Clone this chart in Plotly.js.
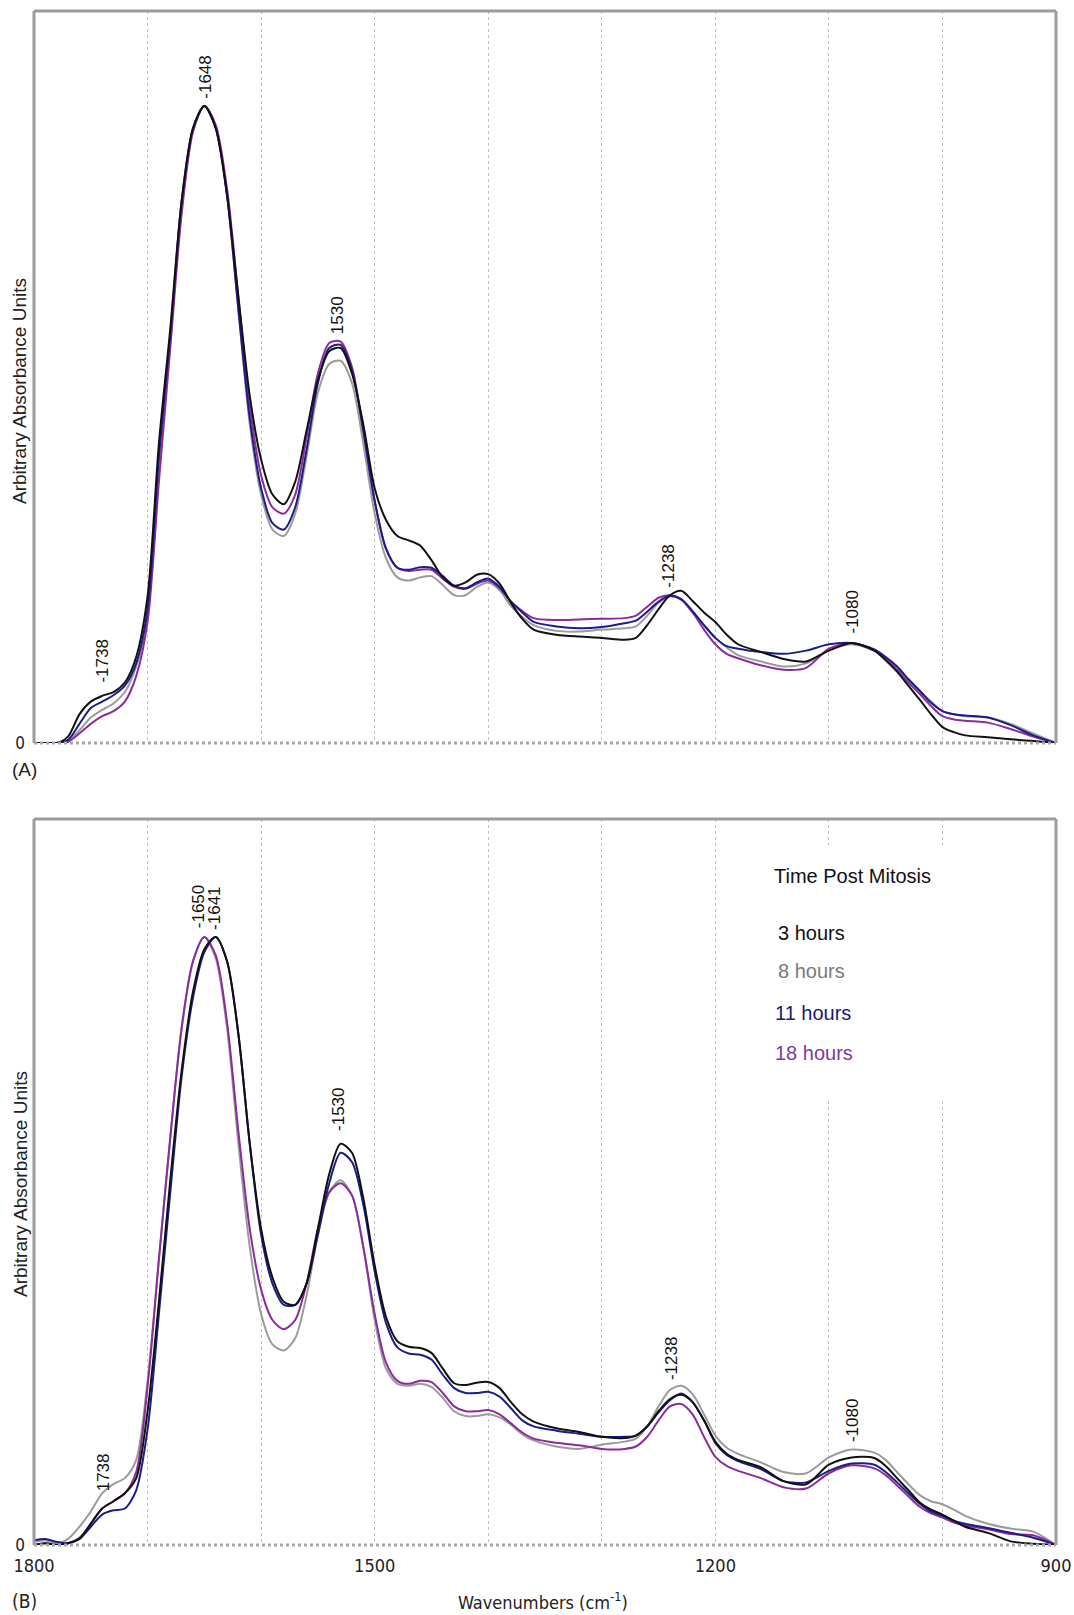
<!DOCTYPE html>
<html>
<head>
<meta charset="utf-8">
<script src="https://cdn.plot.ly/plotly-3.0.1.min.js"></script>
<style>html,body{margin:0;padding:0;background:#fff}#chart{width:1074px;height:1615px}</style>
</head>
<body>
<div id="chart"></div>
<script>
// Wavenumbers (cm-1)
const wavenumbers = [1800,1790,1780,1770,1760,1750,1740,1730,1720,1710,1700,1690,1680,1670,1660,1650,1640,1630,1620,1610,1600,1590,1580,1570,1560,1550,1540,1530,1520,1510,1500,1490,1480,1470,1460,1450,1440,1430,1420,1410,1400,1390,1380,1370,1360,1340,1320,1300,1280,1270,1260,1250,1240,1230,1220,1210,1200,1190,1180,1160,1140,1120,1100,1080,1060,1050,1040,1030,1020,1010,1000,990,980,960,940,920,900];

const seriesNames = ["3 hours","8 hours","11 hours","18 hours"];

// Panel (A)
const A_3h  = [0,0,0,0.01,0.045,0.065,0.074,0.08,0.095,0.135,0.23,0.47,0.65,0.85,0.965,1.0,0.965,0.86,0.70,0.545,0.445,0.39,0.375,0.41,0.49,0.57,0.615,0.62,0.58,0.50,0.40,0.35,0.325,0.318,0.31,0.287,0.26,0.247,0.252,0.264,0.265,0.25,0.22,0.195,0.178,0.17,0.167,0.165,0.162,0.165,0.185,0.21,0.232,0.239,0.223,0.205,0.19,0.17,0.155,0.143,0.132,0.128,0.145,0.157,0.145,0.13,0.112,0.09,0.068,0.045,0.025,0.017,0.012,0.009,0.006,0.003,0];
const A_8h  = [0,0,0,0.003,0.02,0.04,0.052,0.062,0.08,0.12,0.20,0.43,0.63,0.84,0.96,1.0,0.97,0.86,0.68,0.50,0.39,0.335,0.325,0.36,0.45,0.55,0.595,0.60,0.565,0.47,0.36,0.29,0.26,0.255,0.26,0.262,0.248,0.232,0.232,0.245,0.252,0.24,0.215,0.198,0.185,0.176,0.175,0.178,0.18,0.183,0.20,0.22,0.23,0.225,0.205,0.185,0.165,0.15,0.138,0.128,0.12,0.125,0.145,0.155,0.145,0.135,0.12,0.10,0.082,0.065,0.05,0.045,0.042,0.04,0.03,0.015,0];
const A_11h = [0,0,0,0.005,0.03,0.055,0.065,0.075,0.09,0.125,0.21,0.45,0.64,0.85,0.965,1.0,0.965,0.86,0.68,0.51,0.40,0.345,0.335,0.37,0.46,0.565,0.62,0.625,0.585,0.49,0.38,0.305,0.275,0.272,0.276,0.275,0.262,0.247,0.243,0.252,0.258,0.245,0.222,0.205,0.19,0.183,0.18,0.182,0.188,0.192,0.206,0.222,0.231,0.226,0.207,0.185,0.165,0.152,0.148,0.143,0.14,0.145,0.155,0.157,0.147,0.135,0.12,0.10,0.082,0.063,0.05,0.045,0.043,0.04,0.028,0.012,0];
const A_18h = [0,0,0,0.002,0.015,0.03,0.042,0.05,0.065,0.105,0.19,0.41,0.62,0.83,0.96,1.0,0.97,0.87,0.70,0.53,0.42,0.37,0.36,0.39,0.48,0.58,0.628,0.63,0.59,0.49,0.38,0.305,0.275,0.27,0.272,0.272,0.258,0.245,0.242,0.25,0.255,0.243,0.222,0.207,0.196,0.193,0.194,0.195,0.196,0.20,0.214,0.228,0.232,0.225,0.205,0.178,0.155,0.14,0.133,0.122,0.115,0.118,0.148,0.157,0.145,0.132,0.115,0.095,0.077,0.058,0.042,0.037,0.035,0.032,0.022,0.01,0];

// Panel (B)
const B_3h  = [0,0.003,0,0.003,0.01,0.035,0.06,0.072,0.085,0.11,0.22,0.40,0.60,0.78,0.91,0.98,1.0,0.96,0.84,0.66,0.52,0.44,0.40,0.395,0.43,0.52,0.61,0.66,0.645,0.57,0.46,0.375,0.335,0.326,0.324,0.316,0.29,0.266,0.263,0.267,0.268,0.258,0.235,0.215,0.203,0.192,0.186,0.178,0.176,0.18,0.195,0.22,0.24,0.247,0.235,0.205,0.17,0.15,0.14,0.128,0.105,0.10,0.132,0.144,0.143,0.13,0.11,0.09,0.07,0.058,0.05,0.04,0.03,0.02,0.006,0.002,0];
const B_8h  = [0.005,0.008,0.003,0.01,0.03,0.055,0.085,0.10,0.11,0.14,0.27,0.47,0.67,0.85,0.96,1.0,0.965,0.85,0.66,0.49,0.38,0.33,0.32,0.34,0.41,0.51,0.58,0.60,0.575,0.49,0.37,0.29,0.265,0.262,0.265,0.26,0.242,0.22,0.212,0.212,0.215,0.21,0.198,0.182,0.172,0.162,0.158,0.165,0.17,0.175,0.195,0.228,0.255,0.262,0.248,0.215,0.18,0.16,0.15,0.136,0.12,0.118,0.144,0.157,0.152,0.14,0.12,0.10,0.082,0.072,0.067,0.058,0.048,0.035,0.027,0.022,0];
const B_11h = [0.008,0.01,0.005,0.003,0.01,0.03,0.05,0.057,0.06,0.09,0.19,0.38,0.58,0.77,0.90,0.975,1.0,0.96,0.84,0.66,0.51,0.43,0.395,0.395,0.43,0.51,0.595,0.645,0.63,0.56,0.45,0.365,0.325,0.315,0.313,0.305,0.28,0.258,0.25,0.25,0.252,0.244,0.225,0.205,0.195,0.188,0.183,0.178,0.178,0.18,0.195,0.218,0.238,0.249,0.235,0.205,0.168,0.148,0.138,0.125,0.105,0.103,0.122,0.134,0.132,0.12,0.103,0.085,0.068,0.055,0.048,0.04,0.035,0.028,0.02,0.012,0];
const B_18h = [0,0.003,0,0.003,0.012,0.035,0.06,0.072,0.085,0.12,0.26,0.47,0.67,0.85,0.96,1.0,0.97,0.86,0.68,0.52,0.42,0.37,0.355,0.37,0.43,0.52,0.58,0.595,0.575,0.49,0.38,0.30,0.27,0.265,0.27,0.268,0.25,0.228,0.22,0.22,0.222,0.215,0.20,0.185,0.175,0.168,0.164,0.158,0.158,0.162,0.178,0.205,0.228,0.232,0.215,0.178,0.145,0.13,0.122,0.11,0.095,0.093,0.118,0.131,0.126,0.115,0.098,0.08,0.063,0.052,0.045,0.037,0.032,0.026,0.018,0.016,0];

// Peak labels
const peakLabelsA = [
  {wn:1740, y:0.128, text:"-1738"},
  {wn:1649, y:1.045, text:"-1648"},
  {wn:1532, y:0.672, text:"1530"},
  {wn:1241, y:0.278, text:"-1238"},
  {wn:1079, y:0.206, text:"-1080"}
];
const peakLabelsB = [
  {wn:1739, y:0.12, text:"1738"},
  {wn:1655, y:1.05, text:"-1650"},
  {wn:1641, y:1.047, text:"-1641"},
  {wn:1532, y:0.716, text:"-1530"},
  {wn:1238, y:0.306, text:"-1238"},
  {wn:1079, y:0.205, text:"-1080"}
];

const xLabelVals = [1800,1500,1200,900];
const xGridStep = 100;

const colors = {"3 hours":"#111111","8 hours":"#9b9b9b","11 hours":"#1d1d8a","18 hours":"#8c2c9c"};
const legendColors = {"3 hours":"#111111","8 hours":"#7a7a7a","11 hours":"#1a1a70","18 hours":"#7a3a9e"};

const W = 1074, H = 1615;
const px = x => x / W;
const py = y => 1 - y / H;

const dataA = {"3 hours":A_3h,"8 hours":A_8h,"11 hours":A_11h,"18 hours":A_18h};
const dataB = {"3 hours":B_3h,"8 hours":B_8h,"11 hours":B_11h,"18 hours":B_18h};
const drawOrder = ["8 hours","18 hours","11 hours","3 hours"];

const traces = [];
drawOrder.forEach(n => {
  traces.push({x: wavenumbers, y: dataA[n], xaxis:'x', yaxis:'y', type:'scatter', mode:'lines', name:n,
    line:{color:colors[n], width:2, shape:'spline', smoothing:0.8}, showlegend:false, hoverinfo:'skip'});
});
drawOrder.forEach(n => {
  traces.push({x: wavenumbers, y: dataB[n], xaxis:'x2', yaxis:'y2', type:'scatter', mode:'lines', name:n,
    line:{color:colors[n], width:2, shape:'spline', smoothing:0.8}, showlegend:false, hoverinfo:'skip'});
});

const labelFont = {family:'"Liberation Sans", Arial, sans-serif', size:17, color:'#111'};
const narrowFont = '"Liberation Sans Narrow", "Arial Narrow", "DejaVu Sans Condensed", sans-serif';

const annotations = [];
peakLabelsA.forEach(p => annotations.push({xref:'x', yref:'y', x:p.wn, y:p.y, text:p.text, textangle:-90,
  showarrow:false, xanchor:'center', yanchor:'middle', font:labelFont}));
peakLabelsB.forEach(p => annotations.push({xref:'x2', yref:'y2', x:p.wn, y:p.y, text:p.text, textangle:-90,
  showarrow:false, xanchor:'center', yanchor:'middle', font:labelFont}));

// axis titles and panel letters
const titleFont = {family:'"Liberation Sans", Arial, sans-serif', size:19, color:'#222'};
annotations.push({xref:'paper', yref:'paper', x:px(20), y:py(391), text:'Arbitrary Absorbance Units', textangle:-90,
  showarrow:false, xanchor:'center', yanchor:'middle', font:titleFont});
annotations.push({xref:'paper', yref:'paper', x:px(20), y:py(1184), text:'Arbitrary Absorbance Units', textangle:-90,
  showarrow:false, xanchor:'center', yanchor:'middle', font:titleFont});
annotations.push({xref:'paper', yref:'paper', x:px(543), y:py(1601), text:'Wavenumbers (cm<sup>-1</sup>)',
  showarrow:false, xanchor:'center', yanchor:'middle', font:{family:narrowFont, size:18, color:'#222'}});
annotations.push({xref:'paper', yref:'paper', x:px(10), y:py(770), text:'(A)',
  showarrow:false, xanchor:'left', yanchor:'middle', font:{family:'"Liberation Sans", Arial, sans-serif', size:19, color:'#222'}});
annotations.push({xref:'paper', yref:'paper', x:px(10), y:py(1601), text:'(B)',
  showarrow:false, xanchor:'left', yanchor:'middle', font:{family:narrowFont, size:19, color:'#222'}});

// legend text
const legFamily = '"Liberation Sans", Arial, sans-serif';
annotations.push({xref:'paper', yref:'paper', x:px(772), y:py(876), text:'Time Post Mitosis',
  showarrow:false, xanchor:'left', yanchor:'middle', font:{family:legFamily, size:20, color:'#111'}});
const legY = [933, 971, 1013, 1053];
const legX = [776, 776, 773, 773];
seriesNames.forEach((n,i) => annotations.push({xref:'paper', yref:'paper', x:px(legX[i]), y:py(legY[i]), text:n,
  showarrow:false, xanchor:'left', yanchor:'middle', font:{family:legFamily, size:20, color:legendColors[n]}}));

// frames
const frameColor = '#9c9c9c';
function frame(top, bottom){
  const l = px(34), r = px(1056), t = py(top), b = py(bottom);
  return [
    {type:'line', xref:'paper', yref:'paper', x0:l, x1:r, y0:t, y1:t, line:{color:frameColor, width:3}},
    {type:'line', xref:'paper', yref:'paper', x0:l, x1:l, y0:t, y1:b, line:{color:frameColor, width:3}},
    {type:'line', xref:'paper', yref:'paper', x0:r, x1:r, y0:t, y1:b, line:{color:frameColor, width:3}},
    {type:'line', xref:'paper', yref:'paper', x0:l, x1:r, y0:b, y1:b, line:{color:'#a8a8a8', width:3, dash:'dot'}}
  ];
}
const shapes = [
  // white box behind the legend text (hides grid lines)
  {type:'rect', xref:'x2', yref:'y2', x0:1172, x1:902, y0:0.732, y1:1.151, fillcolor:'#ffffff', line:{width:0}, layer:'between'},
  ...frame(11, 743), ...frame(819, 1545)
];

const gridStyle = {gridcolor:'#c0c0c0', griddash:'dot', gridwidth:1};
const xCommon = Object.assign({range:[1800,900], showgrid:true, zeroline:false, showline:false, ticks:'',
  tickvals:xLabelVals, fixedrange:true,
  minor: Object.assign({dtick:xGridStep, tick0:900, showgrid:true, ticks:''}, gridStyle)}, gridStyle);

const layout = {
  width:W, height:H, margin:{l:0,r:0,t:0,b:0}, paper_bgcolor:'#fff', plot_bgcolor:'#fff', showlegend:false,
  xaxis: Object.assign({}, xCommon, {domain:[px(34), px(1056)], anchor:'y', showticklabels:false}),
  yaxis: {domain:[py(743), py(11)], range:[0, 1.149], anchor:'x', showgrid:false, zeroline:false, showline:false,
    tickvals:[0], ticktext:['0'], ticks:'', ticklabelstandoff:8,
    tickfont:{family:narrowFont, size:17, color:'#222'}},
  xaxis2: Object.assign({}, xCommon, {domain:[px(34), px(1056)], anchor:'y2', showticklabels:true, ticklabelstandoff:8,
    tickfont:{family:narrowFont, size:18, color:'#222'}}),
  yaxis2: {domain:[py(1545), py(819)], range:[0, 1.194], anchor:'x2', showgrid:false, zeroline:false, showline:false,
    tickvals:[0], ticktext:['0'], ticks:'', ticklabelstandoff:8,
    tickfont:{family:narrowFont, size:17, color:'#222'}},
  annotations: annotations,
  shapes: shapes
};

Plotly.newPlot('chart', traces, layout, {staticPlot:true, displayModeBar:false});
</script>
</body>
</html>
